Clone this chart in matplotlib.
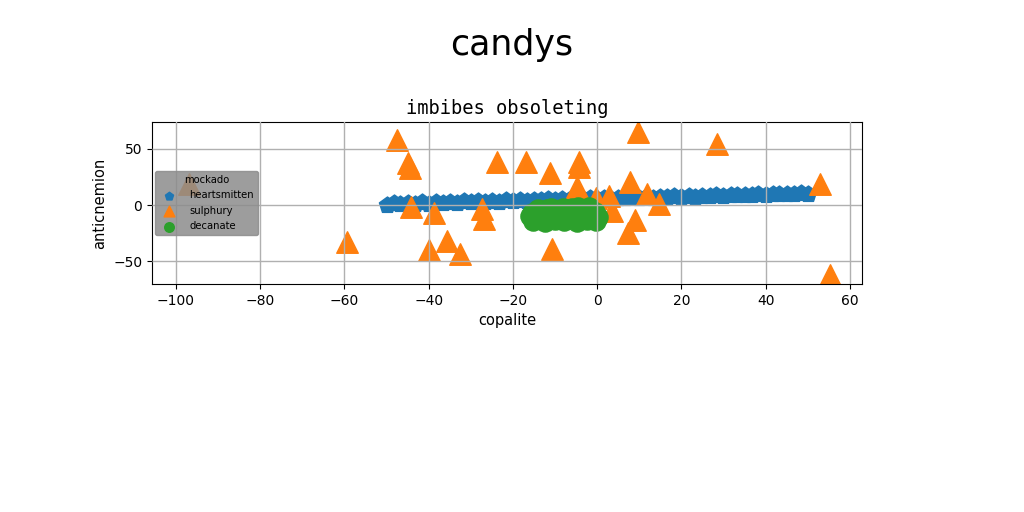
import matplotlib
matplotlib.use("Agg")
import matplotlib.pyplot as plt

# ---- data ----
heart_x = [-50.0, -48.3, -46.7, -45.0, -43.3, -41.7, -40.0, -38.3, -36.7, -35.0,
           -33.3, -31.7, -30.0, -28.3, -26.7, -25.0, -23.3, -21.7, -20.0, -18.3,
           -16.7, -15.0, -13.3, -11.7, -10.0, -8.3, -6.7, -5.0, -3.3, -1.7,
           0.0, 1.7, 3.3, 5.0, 6.7, 8.3, 10.0, 11.7, 13.3, 15.0,
           16.7, 18.3, 20.0, 21.7, 23.3, 25.0, 26.7, 28.3, 30.0, 31.7,
           33.3, 35.0, 36.7, 38.3, 40.0, 41.7, 43.3, 45.0, 46.7, 48.3, 50.0]
heart_y = [0.2, 1.5, 0.6, 2.0, 0.9, 2.4, 1.3, 2.8, 1.7, 2.6,
           2.0, 3.3, 2.4, 3.6, 2.7, 3.9, 3.0, 4.2, 3.5, 4.1,
           3.8, 4.8, 4.1, 5.1, 4.5, 5.4, 4.8, 5.7, 5.1, 6.0,
           5.3, 6.3, 5.8, 6.6, 6.0, 6.9, 6.4, 7.2, 6.7, 7.4,
           7.0, 7.8, 7.3, 8.1, 7.6, 8.4, 7.9, 8.7, 8.2, 9.0,
           8.5, 9.3, 8.8, 9.6, 9.1, 9.9, 9.4, 10.2, 9.7, 10.4, 10.1]

sulph_x = [-96.8, -47.5, -44.9, -44.4, -23.7, -44.2, -38.7, -27.4, -26.8, -59.3,
           -40.0, -35.7, -32.5, -16.8, -11.3, -4.4, -4.3, -4.8, -4.0, -0.2,
           2.9, 3.5, 7.8, 11.8, 14.8, 9.0, 7.4, -10.6, 9.6, 28.4, 53.0, 55.3]
sulph_y = [18.7, 58.0, 37.5, 33.0, 38.7, -1.5, -7.0, -3.6, -12.5, -33.3,
           -40.0, -32.0, -43.5, 38.2, 29.0, 38.4, 33.9, 16.3, 8.0, 6.5,
           8.0, -5.0, 20.8, 9.8, 0.7, -13.0, -25.0, -39.7, 65.4, 54.2, 18.6, -62.5]

dec_x = [-16.0, -15.2, -14.5, -13.8, -13.0, -12.3, -11.5, -10.8, -10.0, -9.3,
         -8.5, -7.8, -7.0, -6.3, -5.5, -4.8, -4.0, -3.3, -2.5, -1.8,
         -1.0, -0.3, -15.5, -12.0, -9.0, -6.0, -3.0, -0.5, 0.2, -2.0,
         -14.0, -11.0, -8.0, -4.5]
dec_y = [-10.0, -14.0, -6.0, -12.0, -9.0, -15.0, -5.0, -11.0, -13.0, -7.0,
         -10.0, -14.0, -6.0, -12.0, -9.0, -15.0, -5.0, -11.0, -13.0, -8.0,
         -10.0, -14.0, -7.0, -4.0, -8.0, -3.0, -7.0, -6.0, -11.0, -2.0,
         -3.5, -2.5, -3.0, -1.5]

labels = ["heartsmitten", "sulphury", "decanate"]
title_text = "candys"
subtitle_text = "imbibes obsoleting"
xlabel_text = "copalite"
ylabel_text = "anticnemion"
legend_title = "mockado"

fig = plt.figure(figsize=(10.24, 5.12), dpi=100)
ax = fig.add_axes([152 / 1024, 1 - 284 / 512, 710 / 1024, 162 / 512])

ax.scatter(heart_x, heart_y, marker="p", s=150, color="#1f77b4", label=labels[0])
ax.scatter(sulph_x, sulph_y, marker="^", s=240, color="#ff7f0e", label=labels[1])
ax.scatter(dec_x, dec_y, marker="o", s=190, color="#2ca02c", label=labels[2])

ax.set_xlim(-105.7, 62.9)
ax.set_ylim(-70.5, 74.1)
ax.set_xticks([-100, -80, -60, -40, -20, 0, 20, 40, 60])
ax.set_yticks([-50, 0, 50])
ax.grid(True, color="#b0b0b0", linewidth=1)
ax.set_axisbelow(False)
ax.tick_params(labelsize=10)

ax.set_xlabel(xlabel_text, fontsize=10.5)
ax.set_ylabel(ylabel_text, fontsize=10.5)
ax.set_title(subtitle_text, fontsize=13.5, family="DejaVu Sans Mono", pad=6)
fig.suptitle(title_text, fontsize=25, y=0.945)

leg = ax.legend(title=legend_title, loc="center left", fontsize=7.2,
                title_fontsize=7.2, markerscale=0.5, facecolor="#8c8c8c",
                edgecolor="#8c8c8c", framealpha=0.85, borderaxespad=0.3,
                labelspacing=0.55, handletextpad=1.0)

fig.savefig("out.png", dpi=100)
